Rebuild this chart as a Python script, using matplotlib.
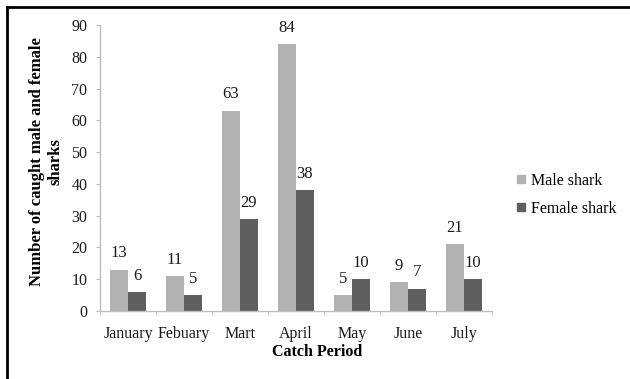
import numpy as np
import matplotlib
matplotlib.use("Agg")
import matplotlib.pyplot as plt
from matplotlib.lines import Line2D

plt.rcParams['font.family'] = ['Liberation Serif', 'DejaVu Serif']

months = ["January", "Febuary", "Mart", "April", "May", "June", "July"]
male = [13, 11, 63, 84, 5, 9, 21]
female = [6, 5, 29, 38, 10, 7, 10]
series_names = ["Male shark", "Female shark"]
y_ticks = [0, 10, 20, 30, 40, 50, 60, 70, 80, 90]

male_color = "#b2b2b2"
female_color = "#5f5f5f"
axis_color = "#bdbdbd"

W, H = 630, 379
fig = plt.figure(figsize=(W / 100, H / 100), dpi=100)
ax = fig.add_axes([100 / W, 1 - 311 / H, 392 / W, 286 / H])

x = np.arange(len(months))
bw = 0.32
b1 = ax.bar(x - bw / 2, male, bw, color=male_color, label=series_names[0])
b2 = ax.bar(x + bw / 2, female, bw, color=female_color, label=series_names[1])

for bars, vals in ((b1, male), (b2, female)):
    for rect, v in zip(bars, vals):
        ax.annotate(f"{v}", (rect.get_x() + rect.get_width() / 2, v),
                    xytext=(0, 6), textcoords="offset points",
                    ha="center", va="bottom", fontsize=12, color="#1a1a1a")

ax.set_xlim(-0.5, len(months) - 0.5)
ax.set_ylim(0, 90)
ax.set_yticks(y_ticks)
ax.set_xticks(x)
ax.set_xticklabels(months)
ax.set_xticks(np.arange(len(months) + 1) - 0.5, minor=True)

for side in ("top", "right"):
    ax.spines[side].set_visible(False)
for side in ("left", "bottom"):
    ax.spines[side].set_color(axis_color)
    ax.spines[side].set_linewidth(1.0)

ax.tick_params(axis="x", which="major", length=0, pad=11, labelsize=11.5, colors="#1a1a1a")
ax.tick_params(axis="x", which="minor", length=3, color=axis_color, direction="out")
ax.tick_params(axis="y", length=3, color=axis_color, pad=6, labelsize=11.5, labelcolor="#1a1a1a")

fig.text(46 / W, 1 - 162 / H, "Number of caught male and female\nsharks",
         rotation=90, ha="center", va="center", multialignment="center",
         fontsize=12, fontweight="bold", linespacing=1.2)
fig.text(317 / W, 1 - 352 / H, "Catch Period", ha="center", va="center",
         fontsize=11.5, fontweight="bold")

handles = [Line2D([], [], marker="s", linestyle="none", markersize=6,
                  markerfacecolor=c, markeredgecolor=c)
           for c in (male_color, female_color)]
fig.legend(handles, series_names, loc="center left",
           bbox_to_anchor=(510 / W, 1 - 195 / H), frameon=False,
           fontsize=11.5, handlelength=0.6, handletextpad=0.3,
           labelspacing=0.75, borderaxespad=0)

# outer frame lines along the left and top edges
fig.add_artist(Line2D([7 / W, 7 / W], [0, 1 - 7 / H], color="black", lw=2,
                      transform=fig.transFigure))
fig.add_artist(Line2D([7 / W, 1], [1 - 7 / H, 1 - 7 / H], color="black", lw=2,
                      transform=fig.transFigure))

fig.savefig("out.png", dpi=100, facecolor="white")
